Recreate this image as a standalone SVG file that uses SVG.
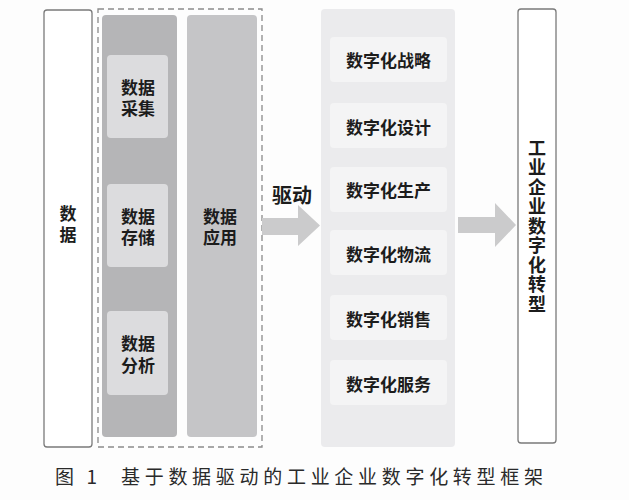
<svg xmlns="http://www.w3.org/2000/svg" width="629" height="500" viewBox="0 0 629 500">
<style>
text{font-family:"Noto Sans CJK SC","Noto Sans CJK JP",sans-serif;fill:#1c1c1c}
.b{font-weight:bold;font-size:17px;text-anchor:middle;dominant-baseline:central}
.b2{font-weight:bold;font-size:17px;text-anchor:middle}
.mid{fill:#f4f4f5}
.inner{fill:#dcdcde}
.arrow{fill:#cbcbcc}
.cap{font-size:19px;fill:#2a2a2a}
.vert{font-weight:bold;font-size:18px;writing-mode:vertical-rl;letter-spacing:1.5px;text-anchor:middle}
</style>
<rect width="629" height="500" fill="#fdfdfd"/>
<g id="data">
<rect x="44" y="10" width="48" height="437" rx="3" fill="#fff" stroke="#7a7a7a" stroke-width="1.3"/>
<text class="vert" x="68" y="226.5" style="font-size:17px;letter-spacing:4px">数据</text>
</g>
<g id="group-dashed">
<rect x="98" y="9" width="164" height="438" fill="none" stroke="#8a8a8a" stroke-width="1.3" stroke-dasharray="6,4"/>
</g>
<g id="col-left">
<rect x="102" y="15" width="75" height="422" rx="4" fill="#b5b5b7"/>
</g>
<g id="collect">
<rect x="107" y="55" width="61" height="83" rx="4" class="inner"/>
<text class="b2"><tspan x="138" y="93.5">数据</tspan><tspan x="138" y="114.5">采集</tspan></text>
</g>
<g id="store">
<rect x="107" y="184" width="61" height="83" rx="4" class="inner"/>
<text class="b2"><tspan x="138" y="222.5">数据</tspan><tspan x="138" y="243.5">存储</tspan></text>
</g>
<g id="analyze">
<rect x="107" y="311" width="61" height="84" rx="4" class="inner"/>
<text class="b2"><tspan x="138" y="349.5">数据</tspan><tspan x="138" y="371.5">分析</tspan></text>
</g>
<g id="apply">
<rect x="187" y="15" width="70" height="422" rx="4" fill="#c5c5c7"/>
<text class="b2"><tspan x="220" y="222.5">数据</tspan><tspan x="220" y="243.5">应用</tspan></text>
</g>
<g id="connectors">
<polygon class="arrow" points="262,218 298,218 298,205 320,225.5 298,246 298,235 262,235"/>
<polygon class="arrow" points="458,217 495,217 495,203 516,225 495,247 495,233 458,233"/>
</g>
<g id="drive-label">
<text x="292" y="194" font-size="20" font-weight="bold" text-anchor="middle" dominant-baseline="central">驱动</text>
</g>
<g id="digital-panel">
<rect x="321" y="9" width="134" height="438" rx="4" fill="#ebebed"/>
</g>
<g id="strategy"><rect x="330" y="37" width="117" height="45" rx="4" class="mid"/><text class="b" x="388.5" y="59">数字化战略</text></g>
<g id="design"><rect x="330" y="103" width="117" height="45" rx="4" class="mid"/><text class="b" x="388.5" y="126">数字化设计</text></g>
<g id="production"><rect x="330" y="167" width="117" height="45" rx="4" class="mid"/><text class="b" x="388.5" y="189">数字化生产</text></g>
<g id="logistics"><rect x="330" y="230" width="117" height="45" rx="4" class="mid"/><text class="b" x="388.5" y="253">数字化物流</text></g>
<g id="sales"><rect x="330" y="295" width="117" height="45" rx="4" class="mid"/><text class="b" x="388.5" y="318">数字化销售</text></g>
<g id="service"><rect x="330" y="360" width="117" height="45" rx="4" class="mid"/><text class="b" x="388.5" y="383">数字化服务</text></g>
<g id="transform">
<rect x="518" y="9" width="38" height="434" rx="3" fill="#fff" stroke="#7a7a7a" stroke-width="1.3"/>
<text class="vert" x="537" y="226.5">工业企业数字化转型</text>
</g>
<g id="caption">
<text class="cap" x="55" y="484" textLength="42" lengthAdjust="spacing">图 1</text>
<text class="cap" x="121" y="484" textLength="422" lengthAdjust="spacing">基于数据驱动的工业企业数字化转型框架</text>
</g>
</svg>
